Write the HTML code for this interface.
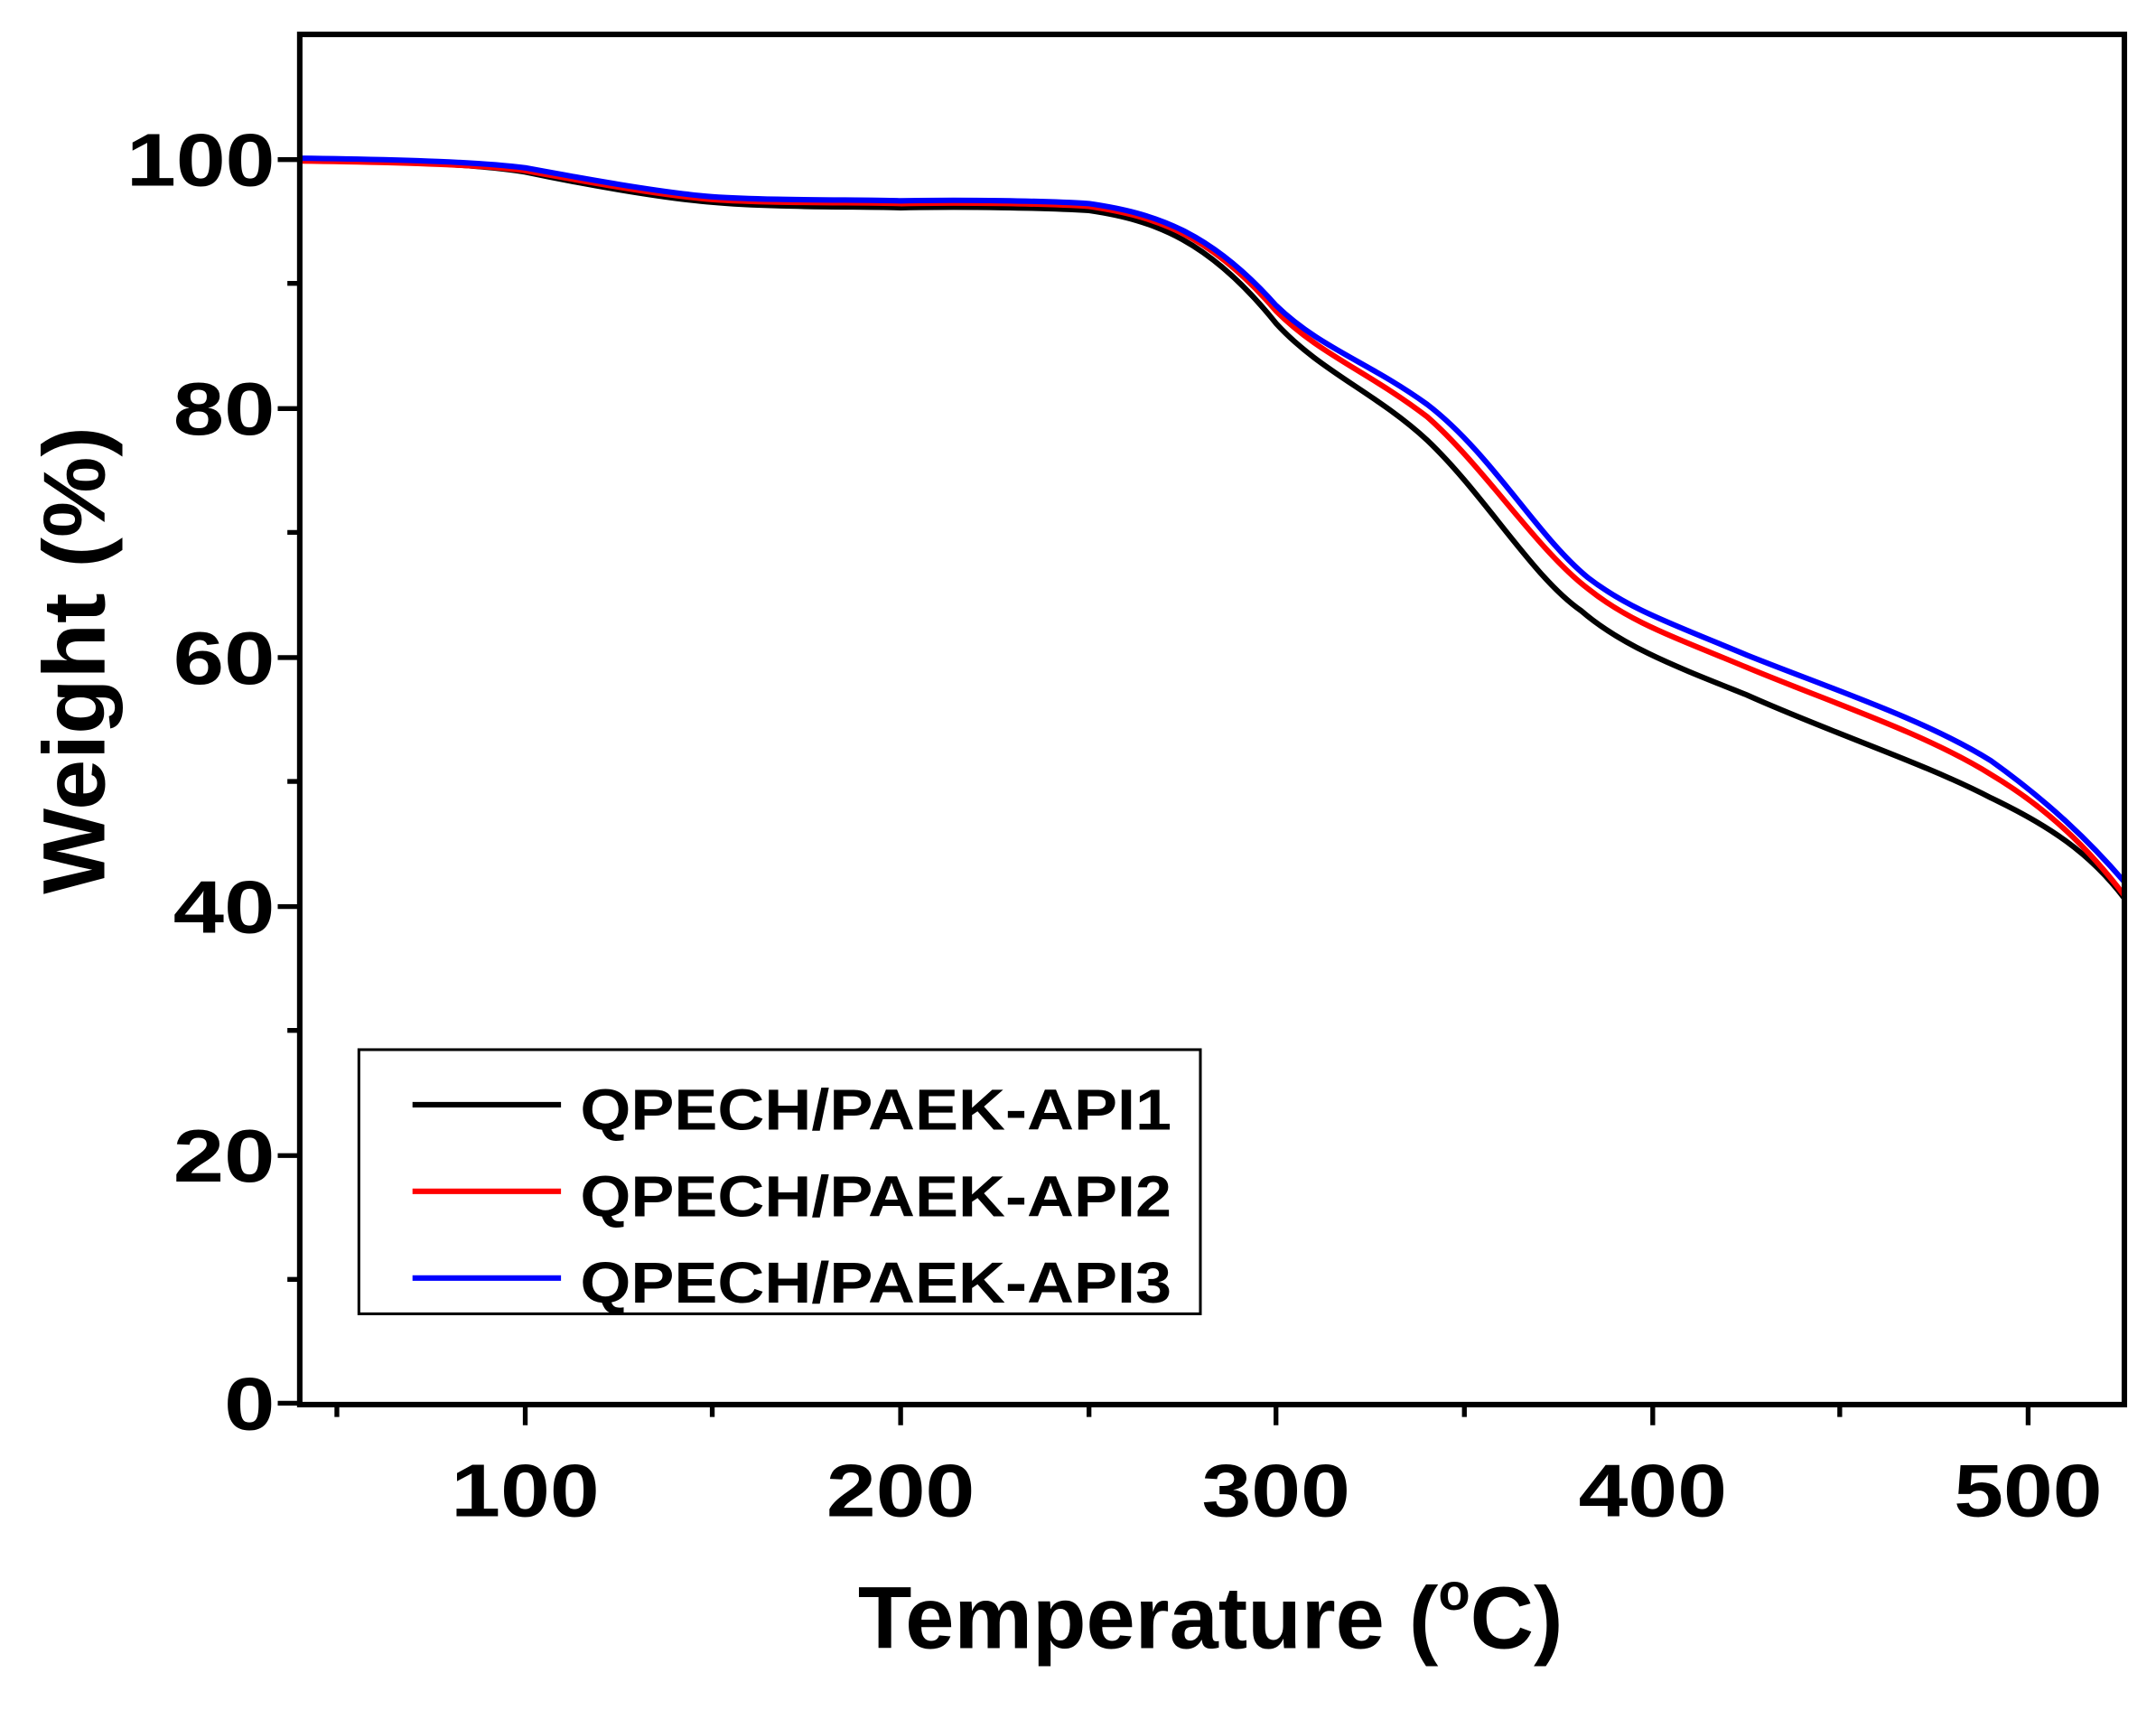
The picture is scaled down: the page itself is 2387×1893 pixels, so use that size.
<!DOCTYPE html>
<html><head><meta charset="utf-8"><style>
html,body{margin:0;padding:0;background:#fff;}
svg{display:block;}
text{font-family:"Liberation Sans",Arial,sans-serif;font-weight:bold;fill:#000;}
</style></head><body>
<svg width="2387" height="1893" viewBox="0 0 1568 1243" preserveAspectRatio="none" xmlns="http://www.w3.org/2000/svg">
<rect width="1568" height="1243" fill="#fff"/>
<g stroke="#000" stroke-width="3.5" fill="none">
<path d="M218 116h-16M218 297h-16M218 478h-16M218 659h-16M218 840h-16M218 1020h-16"/>
<path d="M218 206h-9M218 387h-9M218 568h-9M218 749h-9M218 930h-9"/>
<path d="M382 1021v15M655 1021v15M928 1021v15M1202 1021v15M1475 1021v15"/>
<path d="M245 1021v9M518 1021v9M792 1021v9M1065 1021v9M1338 1021v9"/>
</g>
<g font-size="54" text-anchor="end">
<text x="200" y="135" textLength="108" lengthAdjust="spacingAndGlyphs">100</text>
<text x="200" y="316" textLength="74" lengthAdjust="spacingAndGlyphs">80</text>
<text x="200" y="497" textLength="74" lengthAdjust="spacingAndGlyphs">60</text>
<text x="200" y="678" textLength="74" lengthAdjust="spacingAndGlyphs">40</text>
<text x="200" y="859" textLength="74" lengthAdjust="spacingAndGlyphs">20</text>
<text x="200" y="1039" textLength="37" lengthAdjust="spacingAndGlyphs">0</text>
</g>
<g font-size="54">
<text x="328" y="1102" textLength="108" lengthAdjust="spacingAndGlyphs">100</text>
<text x="601" y="1102" textLength="108" lengthAdjust="spacingAndGlyphs">200</text>
<text x="874" y="1102" textLength="108" lengthAdjust="spacingAndGlyphs">300</text>
<text x="1148" y="1102" textLength="108" lengthAdjust="spacingAndGlyphs">400</text>
<text x="1421" y="1102" textLength="108" lengthAdjust="spacingAndGlyphs">500</text>
</g>
<text font-size="64" text-anchor="middle" transform="translate(76 480) rotate(-90)" textLength="340" lengthAdjust="spacingAndGlyphs">Weight (%)</text>
<text font-size="64" x="624" y="1198">Temperature (<tspan font-size="38" dy="-28">o</tspan><tspan dy="28">C)</tspan></text>
<g fill="none" stroke-width="4" stroke-linejoin="round">
<path stroke="#000" d="M218 116 C300 117 350 120 382 125 C420 133 480 144 518 147 C560 151 630 150 655 151 C700 150 760 151 792 153 C840 160 880 175 928 235 C960 270 1000 285 1038 320 C1080 360 1115 420 1150 444 C1180 470 1220 485 1270 505 C1330 532 1400 555 1448 580 C1490 600 1520 620 1545 653"/>
<path stroke="#f00" d="M218 117 C300 118 350 120 382 124 C420 131 480 142 518 145 C560 148 630 147 655 148 C700 147 760 148 792 150 C840 157 880 170 928 226 C960 258 995 270 1038 303 C1080 340 1118 400 1155 428 C1185 452 1215 462 1270 485 C1330 510 1400 533 1448 563 C1490 588 1520 618 1545 651"/>
<path stroke="#00f" d="M218 115 C300 116 350 118 382 122 C420 129 480 140 518 143 C560 146 630 145 655 146 C700 145 760 146 792 148 C840 155 880 168 928 222 C960 253 995 263 1038 294 C1085 330 1118 390 1155 420 C1185 443 1215 453 1270 476 C1330 500 1400 523 1448 553 C1490 583 1520 612 1545 641"/>
</g>
<rect x="218" y="25" width="1327" height="996" fill="none" stroke="#000" stroke-width="4"/>
<rect x="261" y="763" width="612" height="192" fill="none" stroke="#000" stroke-width="2"/>
<g stroke-width="4">
<line x1="300" y1="803" x2="408" y2="803" stroke="#000"/>
<line x1="300" y1="866" x2="408" y2="866" stroke="#f00"/>
<line x1="300" y1="929" x2="408" y2="929" stroke="#00f"/>
</g>
<g font-size="42">
<text x="422" y="821" textLength="430" lengthAdjust="spacingAndGlyphs">QPECH/PAEK-API1</text>
<text x="422" y="884" textLength="430" lengthAdjust="spacingAndGlyphs">QPECH/PAEK-API2</text>
<text x="422" y="947" textLength="430" lengthAdjust="spacingAndGlyphs">QPECH/PAEK-API3</text>
</g>
</svg>
</body></html>
